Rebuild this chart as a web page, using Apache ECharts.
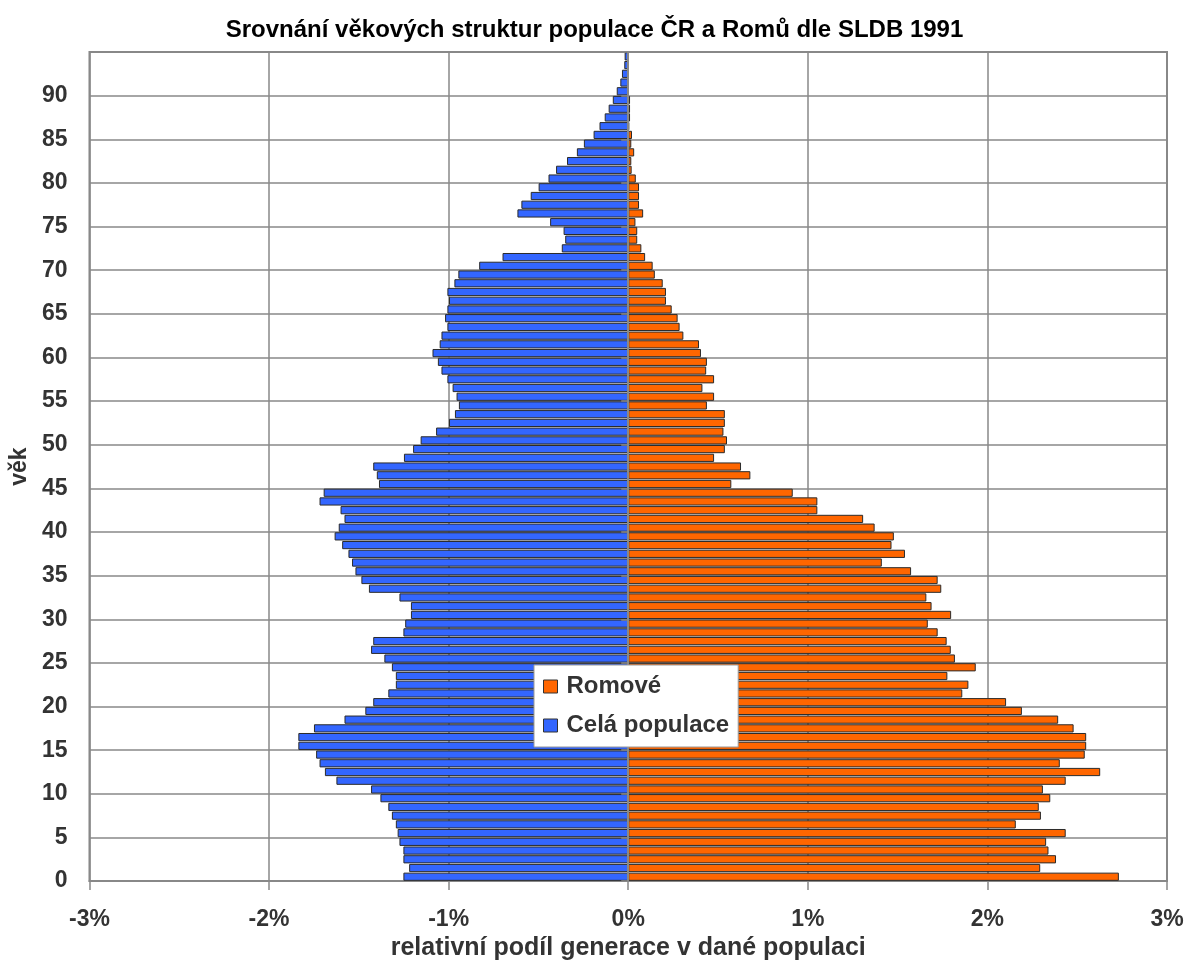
<!DOCTYPE html>
<html>
<head>
<meta charset="utf-8">
<title>Srovnání věkových struktur</title>
<script src="https://cdn.jsdelivr.net/npm/echarts@6/dist/echarts.min.js"></script>
<style>
    html, body {margin: 0; padding: 0; background: #fff;}
    #chart {width: 1189px; height: 966px;}
</style>
</head>
<body>
<div id="chart"></div>
<script>
// vek 0..94, jeden pruh na rocnik
let ages = Array.from({length: 95}, (v, i) => String(i))

// Cela populace, podil v % (kresli se doleva)
let celaPopulace = [
    1.252, 1.22, 1.252, 1.252, 1.274, 1.284, 1.294, 1.316, 1.336, 1.38,
    1.432, 1.625, 1.689, 1.719, 1.738, 1.837, 1.837, 1.75, 1.58, 1.464,
    1.42, 1.336, 1.294, 1.294, 1.316, 1.358, 1.432, 1.42, 1.252, 1.242,
    1.21, 1.21, 1.274, 1.444, 1.486, 1.519, 1.538, 1.558, 1.593, 1.635,
    1.612, 1.58, 1.602, 1.719, 1.696, 1.388, 1.40, 1.42, 1.249, 1.198,
    1.156, 1.07, 0.998, 0.965, 0.943, 0.956, 0.978, 1.007, 1.04, 1.06,
    1.09, 1.05, 1.04, 1.007, 1.02, 1.007, 0.998, 1.007, 0.968, 0.946,
    0.83, 0.70, 0.37, 0.351, 0.36, 0.435, 0.617, 0.595, 0.543, 0.499,
    0.444, 0.402, 0.341, 0.286, 0.247, 0.193, 0.16, 0.131, 0.109, 0.086,
    0.064, 0.044, 0.035, 0.022, 0.02
]

// Romove, podil v %
let romove = [
    2.732, 2.294, 2.382, 2.34, 2.327, 2.436, 2.158, 2.298, 2.286, 2.35,
    2.309, 2.436, 2.628, 2.403, 2.542, 2.55, 2.55, 2.48, 2.394, 2.192,
    2.104, 1.86, 1.894, 1.777, 1.935, 1.819, 1.796, 1.773, 1.723, 1.668,
    1.798, 1.689, 1.66, 1.743, 1.723, 1.575, 1.412, 1.541, 1.466, 1.479,
    1.372, 1.308, 1.053, 1.053, 0.916, 0.574, 0.68, 0.628, 0.478, 0.538,
    0.55, 0.53, 0.538, 0.538, 0.438, 0.478, 0.413, 0.478, 0.434, 0.438,
    0.405, 0.394, 0.307, 0.286, 0.275, 0.242, 0.21, 0.21, 0.192, 0.148,
    0.136, 0.094, 0.073, 0.05, 0.05, 0.04, 0.083, 0.06, 0.06, 0.06,
    0.042, 0.019, 0.017, 0.033, 0.017, 0.021, 0.005, 0.01, 0.01, 0.01,
    0, 0, 0, 0, 0
]

let seriesNames = ['Romové', 'Celá populace']

let font = '"Liberation Sans", Arial, sans-serif'
let gridColor = '#888'
let textColor = '#333'

function boldText(size, color) {
    return {fontFamily: font, fontWeight: 'bold', fontSize: size, color: color || textColor}
}

let chartInst = echarts.init(document.getElementById('chart'), null, {renderer: 'canvas'})

chartInst.setOption({
    animation: false,
    backgroundColor: '#fff',
    title: {
        text: 'Srovnání věkových struktur populace ČR a Romů dle SLDB 1991',
        left: 'center',
        top: 13,
        textStyle: boldText(24, '#000'),
    },
    legend: {
        data: seriesNames,
        orient: 'vertical',
        left: 534,
        top: 665,
        z: 20,
        padding: [8, 9, 8, 9],
        itemGap: 12,
        itemWidth: 14,
        itemHeight: 13,
        icon: 'rect',
        itemStyle: {borderColor: '#333', borderWidth: 1},
        backgroundColor: '#fff',
        borderColor: '#999',
        borderWidth: 1,
        textStyle: Object.assign(boldText(24), {lineHeight: 27, padding: [0, 0, 0, 4]}),
    },
    grid: {
        left: 85,
        right: 22,
        top: 52,
        bottom: 82,
        show: true,
        borderColor: gridColor,
        borderWidth: 2,
    },
    xAxis: {
        type: 'value',
        min: -3,
        max: 3,
        interval: 1,
        name: 'relativní podíl generace v dané populaci',
        nameLocation: 'middle',
        nameGap: 51,
        nameTextStyle: boldText(25),
        axisLine: {show: true, onZero: false, lineStyle: {color: gridColor, width: 2}},
        axisTick: {show: true, length: 9, lineStyle: {color: gridColor, width: 1.5}},
        axisLabel: Object.assign(boldText(23), {margin: 27, formatter: (v) => v + '%'}),
        splitLine: {show: true, lineStyle: {color: gridColor, width: 1.5}},
    },
    yAxis: [
        {
            // kategorie pro pruhy, osa lezi na nule
            type: 'category',
            data: ages,
            position: 'left',
            z: 10,
            axisLine: {show: true, onZero: true, lineStyle: {color: gridColor, width: 2}},
            axisTick: {show: true, interval: 4, length: 7, lineStyle: {color: gridColor, width: 1.5}},
            axisLabel: {show: false},
            splitLine: {show: false},
        },
        {
            // popisky veku a vodorovna mrizka
            type: 'value',
            min: 0,
            max: 95,
            interval: 5,
            position: 'left',
            name: 'věk',
            nameLocation: 'middle',
            nameRotate: 90,
            nameGap: 56,
            nameTextStyle: boldText(23),
            axisLine: {show: false, onZero: false},
            axisTick: {show: false},
            axisLabel: Object.assign(boldText(23), {margin: 22, showMaxLabel: false}),
            splitLine: {show: true, lineStyle: {color: gridColor, width: 1.5}},
        },
    ],
    series: [
        {
            name: 'Romové',
            type: 'bar',
            yAxisIndex: 0,
            data: romove,
            barGap: '-100%',
            barCategoryGap: '6%',
            itemStyle: {color: '#FF6600', borderColor: '#2b2b2b', borderWidth: 1},
        },
        {
            name: 'Celá populace',
            type: 'bar',
            yAxisIndex: 0,
            data: celaPopulace.map((v) => -v),
            barGap: '-100%',
            barCategoryGap: '6%',
            itemStyle: {color: '#3366FF', borderColor: '#2b2b2b', borderWidth: 1},
        },
    ],
})
</script>
</body>
</html>
